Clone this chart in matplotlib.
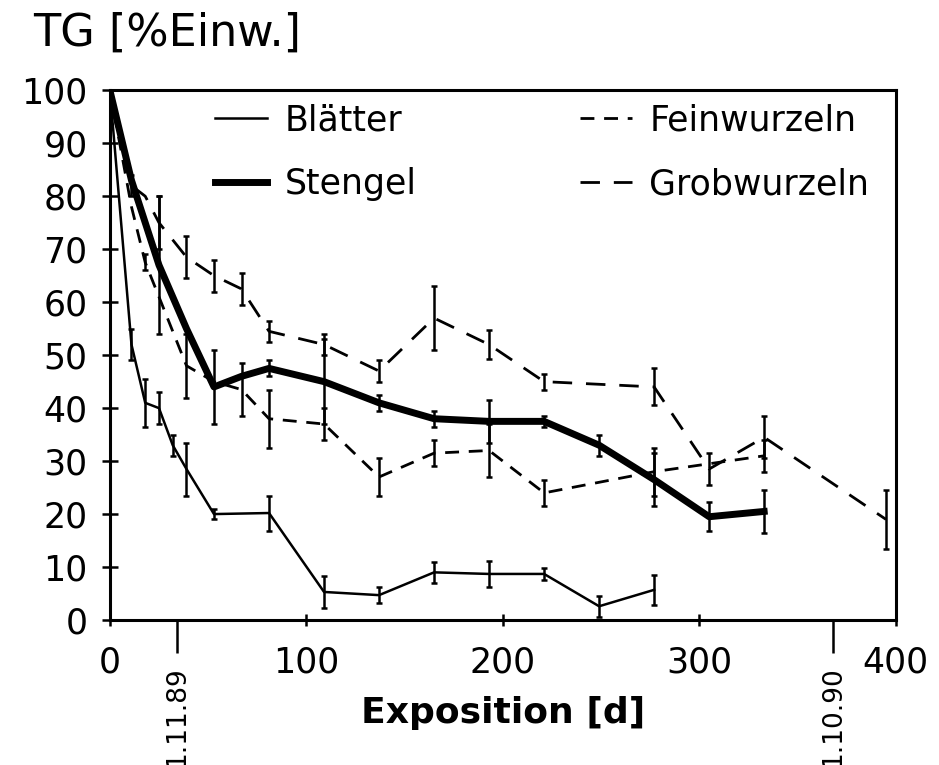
import datetime as dt

import numpy as np
import matplotlib
matplotlib.use("Agg")
import matplotlib.pyplot as plt

# --------------------------------------------------------------------
# Trockengewicht (% Einwaage) über die Expositionsdauer
# --------------------------------------------------------------------

blatt_days = [0, 11, 18, 25, 32, 39, 53, 81, 109, 137, 165, 193, 221, 249, 277]
blatt_tg = [100, 52, 41, 40, 33, 28.5, 20, 20.2, 5.3, 4.7, 9, 8.7, 8.7, 2.6, 5.7]
blatt_sd = [0, 3, 4.5, 3, 2, 5, 1, 3.3, 3, 1.5, 2, 2.5, 1.2, 2, 2.8]

stengel_days = [0, 11, 25, 39, 53, 67, 81, 109, 137, 165, 193, 221, 249, 277, 305, 333]
stengel_tg = [100, 83, 67, 55, 44, 46, 47.5, 45, 41, 38, 37.5, 37.5, 33, 26.5, 19.5, 20.5]
stengel_sd = [0, 0, 13, 0, 7, 0, 1.5, 8, 1.5, 1.5, 4, 1, 2, 5, 2.7, 4]

fein_days = [0, 11, 18, 39, 53, 67, 81, 109, 137, 165, 193, 221, 277, 305, 333]
fein_tg = [100, 78, 67.5, 48, 45, 43.5, 38, 37, 27, 31.5, 32, 24, 28, 29.5, 31]
fein_sd = [0, 0, 1.5, 6, 0, 5, 5.5, 3, 3.5, 2.5, 5, 2.5, 4.5, 0, 3]

grob_days = [0, 11, 18, 25, 39, 53, 67, 81, 109, 137, 165, 193, 221, 277, 305, 333, 395]
grob_tg = [100, 82, 80, 75, 68.5, 65, 62.5, 54.5, 52, 47, 57, 52, 45, 44, 28.5, 34.5, 19]
grob_sd = [0, 2, 0, 5, 4, 3, 3, 2, 2, 2, 6, 2.7, 1.5, 3.5, 3, 4, 5.5]

# Kalenderdaten unter der x-Achse
start_date = dt.date(1989, 9, 28)
date_marks = [dt.date(1989, 11, 1), dt.date(1990, 10, 1)]
date_labels = ["1.11.89", "1.10.90"]

x_ticks = [0, 100, 200, 300, 400]
y_ticks = list(range(0, 101, 10))


def draw_series(ax, days, tg, sd, lw, dashes=None, label=None):
    days = np.asarray(days, float)
    tg = np.asarray(tg, float)
    sd = np.asarray(sd, float)
    line, = ax.plot(days, tg, color="black", lw=lw, label=label,
                    solid_joinstyle="round", dash_capstyle="butt")
    if dashes is not None:
        line.set_dashes(dashes)
    m = sd > 0
    ax.errorbar(days[m], tg[m], yerr=sd[m], fmt="none", ecolor="black",
                elinewidth=1.8, capsize=2.5, capthick=1.8)
    return line


fig = plt.figure(figsize=(9.39, 7.65), dpi=100)
ax = fig.add_axes([0.117, 0.1895, 0.837, 0.6925])

draw_series(ax, blatt_days, blatt_tg, blatt_sd, 1.8, label="Blätter")
draw_series(ax, stengel_days, stengel_tg, stengel_sd, 5.0, label="Stengel")
draw_series(ax, fein_days, fein_tg, fein_sd, 2.0, dashes=(5, 3.5), label="Feinwurzeln")
draw_series(ax, grob_days, grob_tg, grob_sd, 2.0, dashes=(7, 5), label="Grobwurzeln")

ax.set_xlim(0, 400)
ax.set_ylim(0, 100)
ax.set_xticks(x_ticks)
ax.set_yticks(y_ticks)
ax.tick_params(axis="y", direction="inout", length=12, width=1.8,
               labelsize=25, pad=10)
ax.tick_params(axis="x", direction="inout", length=9, width=1.8,
               labelsize=25, pad=14)
for s in ax.spines.values():
    s.set_linewidth(2.2)

ax.set_xlabel("Exposition [d]", fontsize=26, fontweight="bold", labelpad=12)
fig.text(0.035, 0.985, "TG [%Einw.]", fontsize=32, ha="left", va="top")

# zweite Skala mit den Datumsmarken
sec = ax.secondary_xaxis("bottom")
sec.set_xticks([(d - start_date).days for d in date_marks])
sec.set_xticklabels(date_labels, rotation=90, va="top")
sec.tick_params(direction="out", length=24, width=1.8, labelsize=19, pad=9)
sec.spines["bottom"].set_visible(False)

leg = ax.legend(ncol=2, loc="upper left", bbox_to_anchor=(0.134, 0.975),
                frameon=False, fontsize=25, handlelength=1.5,
                handletextpad=0.5, columnspacing=4.7, labelspacing=0.85,
                borderpad=0, borderaxespad=0)

fig.savefig("out.png", dpi=100, facecolor="white")
